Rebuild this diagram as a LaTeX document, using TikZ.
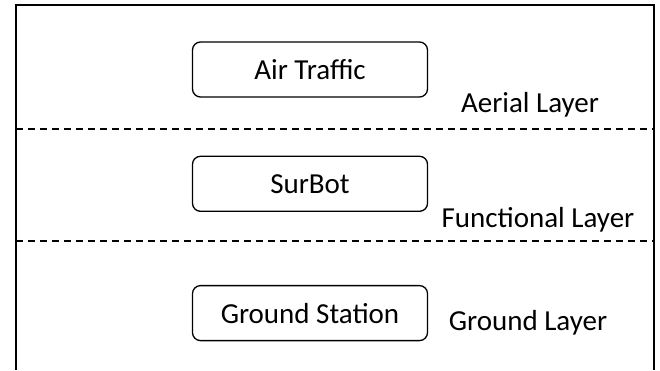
\documentclass[tikz,border=0pt]{standalone}
\usepackage{fontspec}
\setmainfont{Carlito}
\usepackage{tikz}
\usetikzlibrary{positioning}
\tikzset{
  unit/.style={draw, rounded corners=8pt, line width=1.3pt, minimum width=235pt, minimum height=55pt, inner sep=0pt},
  layer/.style={anchor=base, inner sep=0pt},
  sep/.style={dashed, dash pattern=on 7pt off 5pt, line width=1.2pt}
}

\begin{document}
\begin{tikzpicture}[x=1pt, y=-1pt, font=\fontsize{29}{34}\selectfont]
            \useasboundingbox (0,0) rectangle (660,370);
            % frame, open at the bottom
            \coordinate (bl) at (16,370);
            \coordinate (tl) at (16,5);
            \coordinate (tr) at (654,5);
            \coordinate (br) at (654,370);
            \draw[line width=1.3pt] (bl) -- (tl) -- (tr) -- (br);
            \coordinate (s1l) at (16,129);
            \coordinate (s1r) at (654,129);
            \coordinate (s2l) at (16,241);
            \coordinate (s2r) at (654,241);
            \draw[sep] (s1l) -- (s1r);
            \draw[sep] (s2l) -- (s2r);
            % the three units
            \node[unit] (air) at (310,69.5) {Air Traffic};
            \node[unit, below=58pt of air] (surbot) {SurBot};
            \node[unit, below=73pt of surbot] (ground) {Ground Station};
            % layer names
            \node[layer] (aerial) at (530,112) {Aerial Layer};
            \node[layer] (functional) at (538,227) {Functional Layer};
            \node[layer] (groundlayer) at (528,330) {Ground Layer};
        \end{tikzpicture}
\end{document}
